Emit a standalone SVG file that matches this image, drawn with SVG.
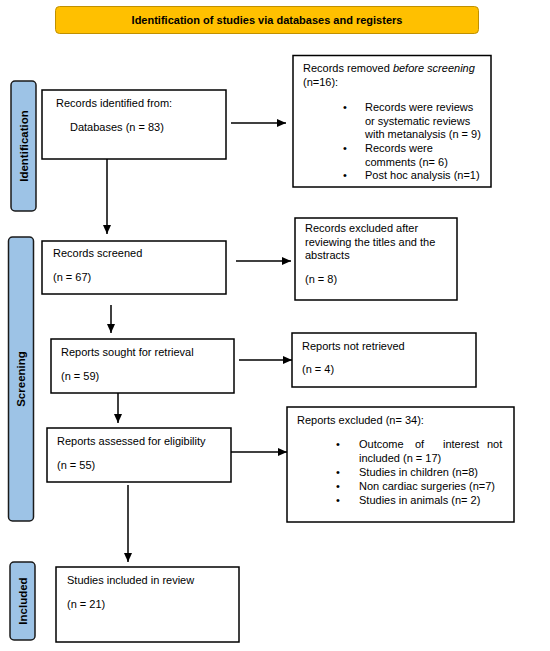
<svg xmlns="http://www.w3.org/2000/svg" width="550" height="651" viewBox="0 0 550 651">
<defs>
<marker id="ah" markerWidth="10" markerHeight="8" refX="9" refY="4" orient="auto" markerUnits="userSpaceOnUse">
<path d="M0,0 L9,4 L0,8 Z" fill="#000"/>
</marker>
<style>
.box{fill:#fff;stroke:#000;stroke-width:1.5}
.t{font-family:"Liberation Sans",Arial,sans-serif;font-size:11px;fill:#000}
.b{font-family:"Liberation Sans",Arial,sans-serif;font-size:11px;font-weight:bold;fill:#000}
.side{fill:#9DC3E6;stroke:#1a1a1a;stroke-width:1.5}
.sl{font-family:"Liberation Sans",Arial,sans-serif;font-size:11.5px;font-weight:bold;fill:#000;text-anchor:middle}
.c{stroke:#000;stroke-width:1.5;fill:none;marker-end:url(#ah)}
</style>
</defs>
<rect width="550" height="651" fill="#fff"/>
<g id="title">
<rect x="55.5" y="6.5" width="423" height="27" rx="4" fill="#FFC000" stroke="#C09000" stroke-width="1"/>
<text class="b" x="267" y="24" text-anchor="middle">Identification of studies via databases and registers</text>
</g>
<g id="label-identification">
<rect class="side" x="11" y="81" width="25" height="130" rx="4"/>
<text class="sl" transform="translate(27.5,146) rotate(-90)">Identification</text>
</g>
<g id="label-screening">
<rect class="side" x="8.5" y="237" width="25" height="284" rx="4"/>
<text class="sl" transform="translate(25,379) rotate(-90)">Screening</text>
</g>
<g id="label-included">
<rect class="side" x="10" y="562" width="25" height="78" rx="4"/>
<text class="sl" transform="translate(26.5,601) rotate(-90)">Included</text>
</g>
<g id="records-identified">
<rect class="box" x="42" y="90" width="184" height="69"/>
<text class="t" x="56" y="107">Records identified from:</text>
<text class="t" x="70" y="131">Databases (n = 83)</text>
</g>
<g id="records-removed">
<rect class="box" x="293" y="55.5" width="198" height="131.5"/>
<text class="t" x="303" y="72">Records removed <tspan font-style="italic">before screening</tspan></text>
<text class="t" x="303" y="86">(n=16):</text>
<text class="t" x="343" y="111">•</text>
<text class="t" x="365" y="111">Records were reviews</text>
<text class="t" x="365" y="124.5">or systematic reviews</text>
<text class="t" x="365" y="138">with metanalysis (n = 9)</text>
<text class="t" x="343" y="152">•</text>
<text class="t" x="365" y="152">Records were</text>
<text class="t" x="365" y="165.5">comments (n= 6)</text>
<text class="t" x="343" y="179">•</text>
<text class="t" x="365" y="179">Post hoc analysis (n=1)</text>
</g>
<g id="records-screened">
<rect class="box" x="42" y="241" width="184" height="53"/>
<text class="t" x="53" y="257">Records screened</text>
<text class="t" x="53" y="281">(n = 67)</text>
</g>
<g id="records-excluded">
<rect class="box" x="295" y="218" width="162" height="82"/>
<text class="t" x="305" y="232">Records excluded after</text>
<text class="t" x="305" y="246">reviewing the titles and the</text>
<text class="t" x="305" y="259">abstracts</text>
<text class="t" x="305" y="283">(n = 8)</text>
</g>
<g id="reports-sought">
<rect class="box" x="51" y="339" width="183" height="54"/>
<text class="t" x="61" y="356">Reports sought for retrieval</text>
<text class="t" x="61" y="380">(n = 59)</text>
</g>
<g id="reports-not-retrieved">
<rect class="box" x="292" y="333" width="184" height="54"/>
<text class="t" x="302" y="350">Reports not retrieved</text>
<text class="t" x="302" y="373">(n = 4)</text>
</g>
<g id="reports-assessed">
<rect class="box" x="47" y="428" width="184" height="54"/>
<text class="t" x="57" y="445">Reports assessed for eligibility</text>
<text class="t" x="57" y="469">(n = 55)</text>
</g>
<g id="reports-excluded">
<rect class="box" x="287" y="407" width="227" height="115"/>
<text class="t" x="297" y="424">Reports excluded (n= 34):</text>
<text class="t" x="336" y="448">•</text>
<text class="t" y="448"><tspan x="359">Outcome</tspan><tspan x="415">of</tspan><tspan x="443">interest</tspan><tspan x="487">not</tspan></text>
<text class="t" x="359" y="462">included (n = 17)</text>
<text class="t" x="336" y="476">•</text>
<text class="t" x="359" y="476">Studies in children (n=8)</text>
<text class="t" x="336" y="490">•</text>
<text class="t" x="359" y="490">Non cardiac surgeries (n=7)</text>
<text class="t" x="336" y="504">•</text>
<text class="t" x="359" y="504">Studies in animals (n= 2)</text>
</g>
<g id="studies-included">
<rect class="box" x="56" y="567" width="183" height="75"/>
<text class="t" x="67" y="584">Studies included in review</text>
<text class="t" x="67" y="608">(n = 21)</text>
</g>
<g id="connectors">
<line class="c" x1="231" y1="123" x2="286" y2="123"/>
<line class="c" x1="107" y1="159" x2="107" y2="234"/>
<line class="c" x1="236" y1="261" x2="291" y2="261"/>
<line class="c" x1="111" y1="305" x2="111" y2="333"/>
<line class="c" x1="239" y1="360" x2="292" y2="360"/>
<line class="c" x1="118" y1="393" x2="118" y2="423"/>
<line class="c" x1="231" y1="452" x2="287" y2="452"/>
<line class="c" x1="128" y1="485" x2="128" y2="562"/>
</g>
</svg>
